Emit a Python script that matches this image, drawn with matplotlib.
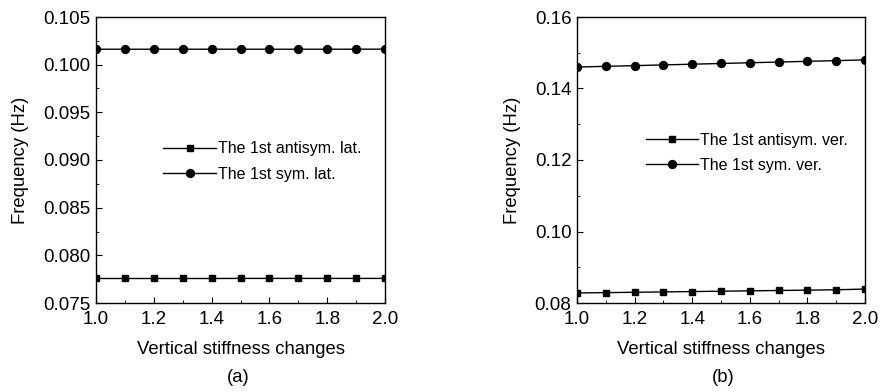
import numpy as np
import matplotlib
matplotlib.use("Agg")
import matplotlib.pyplot as plt
from matplotlib.ticker import MultipleLocator

plt.rcParams['font.family'] = ['Liberation Sans', 'DejaVu Sans']

# stiffness ratio
x = [1.0, 1.1, 1.2, 1.3, 1.4, 1.5, 1.6, 1.7, 1.8, 1.9, 2.0]

# (a) lateral modes
anti_lat = [0.07757, 0.07757, 0.07757, 0.07757, 0.07757, 0.07758,
            0.07758, 0.07758, 0.07758, 0.07758, 0.07758]
sym_lat = [0.10162, 0.10162, 0.10162, 0.10162, 0.10162, 0.10162,
           0.10162, 0.10162, 0.10162, 0.10162, 0.10163]

# (b) vertical modes
anti_ver = [0.0828, 0.0829, 0.0830, 0.0831, 0.0832, 0.0833,
            0.0834, 0.0835, 0.0836, 0.0837, 0.0839]
sym_ver = [0.1460, 0.1462, 0.1464, 0.1466, 0.1468, 0.1470,
           0.1472, 0.1474, 0.1476, 0.1478, 0.1480]

fig = plt.figure(figsize=(8.8, 3.92), dpi=100)
ax1 = fig.add_axes([96/880, 1-303/392, 289/880, 286/392])
ax2 = fig.add_axes([577/880, 1-303/392, 288/880, 286/392])


def style(ax, ylim, ymaj, ymin, yfmt):
    ax.set_xlim(1.0, 2.0)
    ax.set_ylim(*ylim)
    ax.xaxis.set_major_locator(MultipleLocator(0.2))
    ax.xaxis.set_minor_locator(MultipleLocator(0.1))
    ax.yaxis.set_major_locator(MultipleLocator(ymaj))
    ax.yaxis.set_minor_locator(MultipleLocator(ymin))
    ax.yaxis.set_major_formatter(plt.FormatStrFormatter(yfmt))
    ax.xaxis.set_major_formatter(plt.FormatStrFormatter('%.1f'))
    ax.tick_params(which='both', direction='in', top=False, right=False,
                   labelsize=13.5)
    ax.tick_params(axis='x', pad=6)
    ax.tick_params(axis='y', pad=4)
    ax.tick_params(which='major', length=4)
    ax.tick_params(which='minor', length=2.5)
    ax.set_xlabel('Vertical stiffness changes', fontsize=13.3, labelpad=9)
    ax.set_ylabel('Frequency (Hz)', fontsize=13.3, labelpad=10)
    for s in ax.spines.values():
        s.set_linewidth(1.0)


ax1.plot(x, anti_lat, 'k-s', lw=1, ms=5, label='The 1st antisym. lat.')
ax1.plot(x, sym_lat, 'k-o', lw=1, ms=5.7, label='The 1st sym. lat.')
style(ax1, (0.075, 0.105), 0.005, 0.0025, '%.3f')
ax1.legend(loc='upper left', bbox_to_anchor=(0.211, 0.588), frameon=False,
           fontsize=11.5, handlelength=3.3, handletextpad=0.1,
           labelspacing=0.65, borderaxespad=0)

ax2.plot(x, anti_ver, 'k-s', lw=1, ms=5, label='The 1st antisym. ver.')
ax2.plot(x, sym_ver, 'k-o', lw=1, ms=5.7, label='The 1st sym. ver.')
style(ax2, (0.08, 0.16), 0.02, 0.01, '%.2f')
ax2.legend(loc='upper left', bbox_to_anchor=(0.216, 0.618), frameon=False,
           fontsize=11.5, handlelength=3.3, handletextpad=0.1,
           labelspacing=0.65, borderaxespad=0)

fig.text(238/880, 1-378/392, '(a)', fontsize=13.3, ha='center', va='center')
fig.text(723/880, 1-378/392, '(b)', fontsize=13.3, ha='center', va='center')

fig.savefig('out.png', dpi=100)
